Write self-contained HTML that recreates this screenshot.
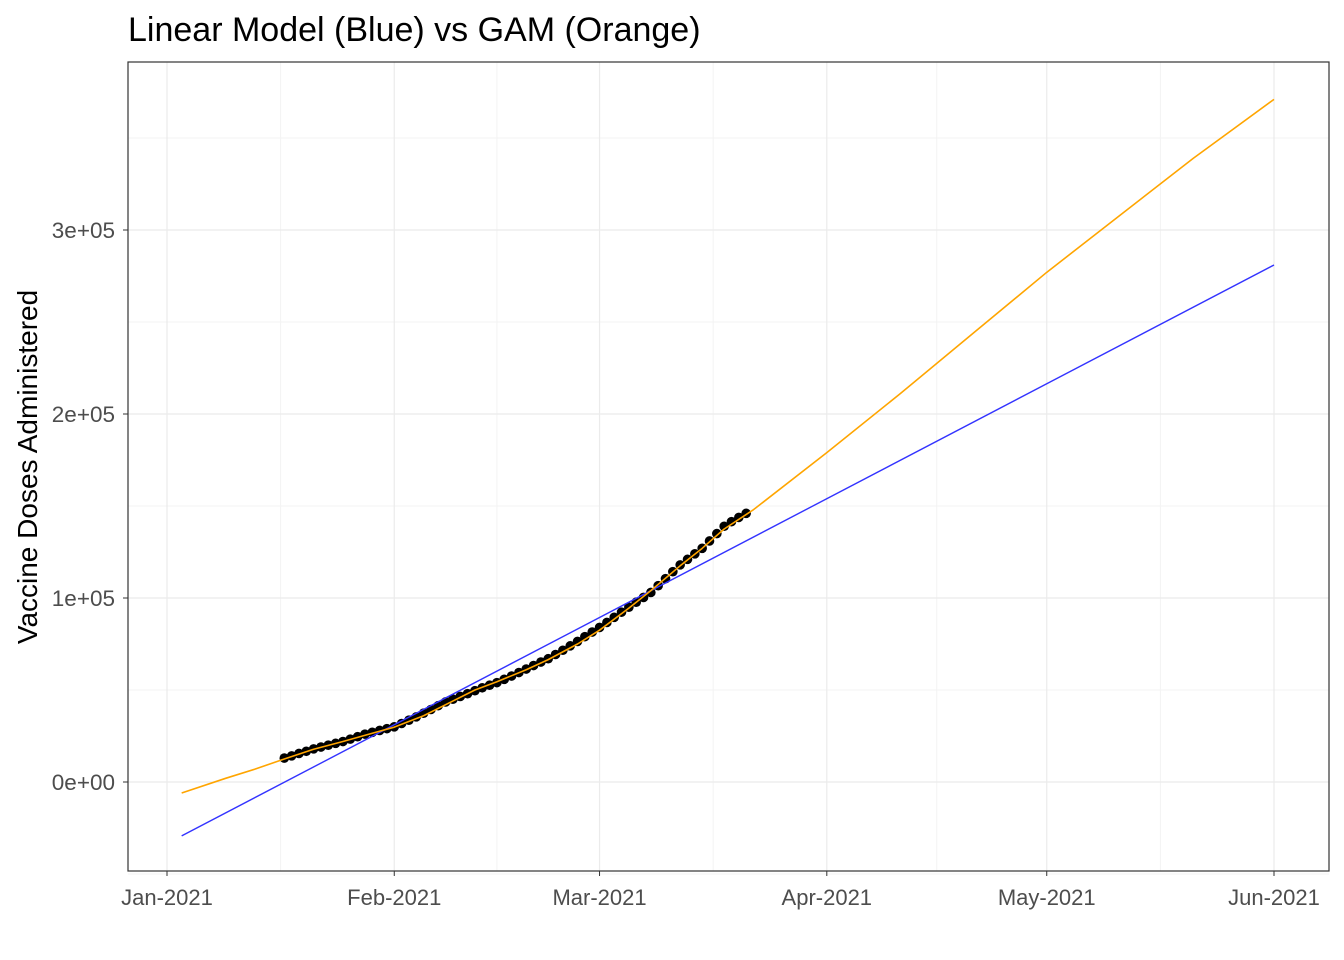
<!DOCTYPE html>
<html><head><meta charset="utf-8"><style>
html,body{margin:0;padding:0;background:#fff;}
svg{display:block;font-family:"Liberation Sans",Arial,sans-serif;}
</style></head><body>
<svg id="chart" width="1344" height="960"></svg>
<script>
const monthLabels=["Jan-2021","Feb-2021","Mar-2021","Apr-2021","May-2021","Jun-2021"];
const monthDays=[0,31,59,90,120,151];
const yTicks=[0,100000,200000,300000];
const yTickLabels=["0e+00","1e+05","2e+05","3e+05"];
const obsStartDay=16;
const obsValues=[13,14.2,15.5,16.7,18,19,20,21,22,23.3,24.6,26,27,28,29,30,31.8,33.6,35.4,37.4,39.4,41.5,43.5,45,46.5,48,49.6,51.2,52.6,54,55.8,57.6,59.5,61.4,63.3,65.2,67,69.3,71.6,74,76.4,79,81.5,84,86.7,89.5,92.3,95,97.7,100.3,103,106.7,110.5,114.3,118,121,124,127,131,135,139,141.5,143.8,146];
const gamDays=[2,8,12,16,20,24,28,31,35,38,42,45,49,52,56,59,63,66,70,73,76,80,90,100,110,120,130,140,151];
const gamValues=[-6,2,7,12.5,17.8,22,26.5,29.8,36,42,50,54.5,61,66.5,75,82.5,94.5,104,117.5,127,137.5,148,179,211,244,277,308,339,371];
const lmDays=[2,151];
const lmValues=[-29.3,281];

const NS="http://www.w3.org/2000/svg";
const svg=document.getElementById('chart');
const L=128,R=1329,T=62,B=871;
const x=d=>167+d*(1274-167)/151;
const y=v=>782-v*184/100000;
function mk(tag,attrs,parent){const e=document.createElementNS(NS,tag);for(const k in attrs)e.setAttribute(k,attrs[k]);(parent||svg).appendChild(e);return e;}

for(let i=0;i<monthDays.length-1;i++){
  const xm=x((monthDays[i]+monthDays[i+1])/2);
  const g=mk('line',{x1:xm,x2:xm,y1:T,y2:B,stroke:'#f3f3f3','stroke-width':1});
  
  
}
for(let i=0;i<yTicks.length;i++){
  const ym=y(yTicks[i]-50000);
  const g=mk('line',{x1:L,x2:R,y1:ym,y2:ym,stroke:'#f3f3f3','stroke-width':1});
  
  
}
{const ym=y(350000);const g=mk('line',{x1:L,x2:R,y1:ym,y2:ym,stroke:'#f3f3f3','stroke-width':1});

}
monthDays.forEach((d,i)=>{
  const xx=x(d);
  const g=mk('line',{x1:xx,x2:xx,y1:T,y2:B,stroke:'#ebebeb','stroke-width':1.2});
  
  
  const t=mk('line',{x1:xx,x2:xx,y1:B,y2:B+5,stroke:'#333','stroke-width':1});
  
  
  const lb=mk('text',{x:xx,y:905,'text-anchor':'middle','font-size':22,fill:'#4d4d4d'});
  lb.textContent=monthLabels[i];
  
  
});
yTicks.forEach((v,i)=>{
  const yy=y(v);
  const g=mk('line',{x1:L,x2:R,y1:yy,y2:yy,stroke:'#ebebeb','stroke-width':1.2});
  
  
  const t=mk('line',{x1:L-5,x2:L,y1:yy,y2:yy,stroke:'#333','stroke-width':1});
  
  
  const lb=mk('text',{x:L-13,y:yy+8,'text-anchor':'end','font-size':22.5,fill:'#4d4d4d'});
  lb.textContent=yTickLabels[i];
  
  
});
obsValues.forEach((v,i)=>{
  const c=mk('circle',{cx:x(obsStartDay+i),cy:y(v*1000),r:4.8,fill:'#000'});
  
  
});
const lm=mk('polyline',{points:lmDays.map((d,i)=>x(d)+','+y(lmValues[i]*1000)).join(' '),fill:'none',stroke:'#3333ff','stroke-width':1.4});


const gm=mk('polyline',{points:gamDays.map((d,i)=>x(d)+','+y(gamValues[i]*1000)).join(' '),fill:'none',stroke:'#ffa500','stroke-width':1.6,'stroke-linejoin':'round'});


const bd=mk('rect',{x:L,y:T,width:R-L,height:B-T,fill:'none',stroke:'#333','stroke-width':1.2});


const tt=mk('text',{x:128,y:41,'font-size':34,fill:'#000'});
tt.textContent='Linear Model (Blue) vs GAM (Orange)';


const yl=mk('text',{x:0,y:0,'font-size':28,fill:'#000','text-anchor':'middle',transform:'translate(37,467) rotate(-90)'});
yl.textContent='Vaccine Doses Administered';


</script>
</body></html>
